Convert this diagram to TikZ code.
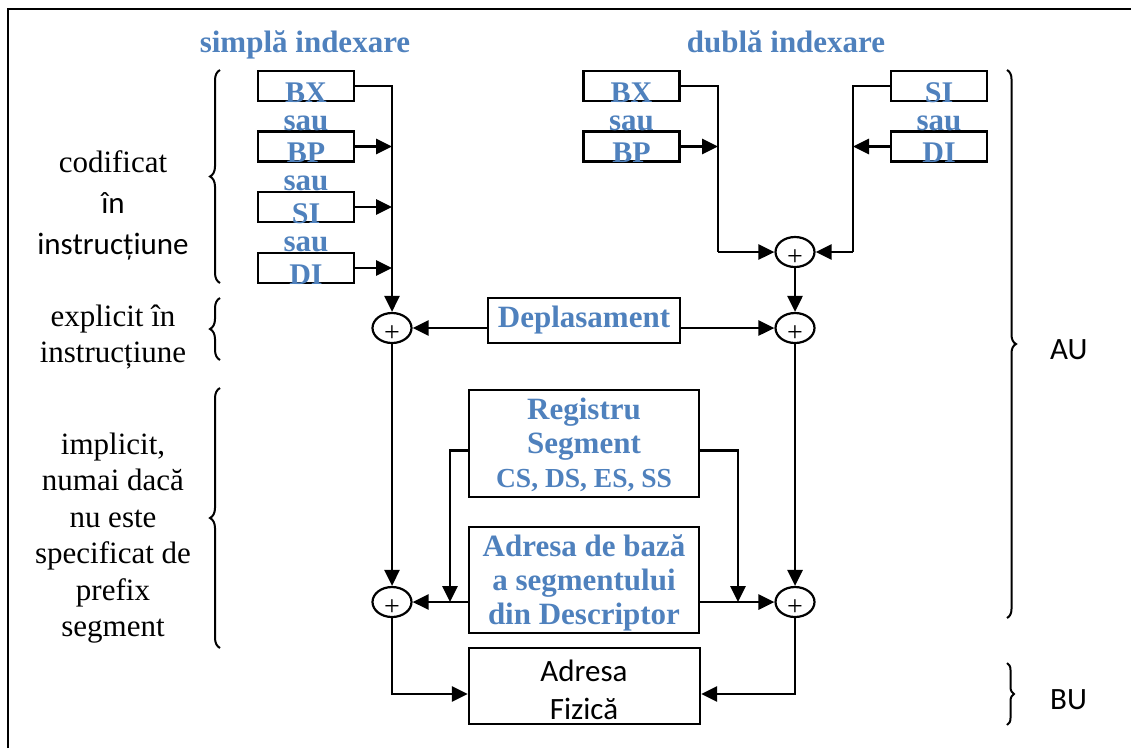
\documentclass[tikz,border=0pt]{standalone}
\usepackage{fontspec}
\setmainfont{Liberation Serif}
\newfontfamily\calfont{Carlito}
\usetikzlibrary{arrows.meta,shapes.geometric,decorations.pathreplacing,calc}
\definecolor{accblue}{HTML}{4F81BD}

\begin{document}
\begin{tikzpicture}[x=1pt,y=-1pt,
  regbox/.style={draw,line width=2.4pt,minimum width=96pt,minimum height=30pt,inner sep=0pt},
  bigbox/.style={draw,line width=2.4pt,inner sep=0pt},
  reglbl/.style={font=\fontsize{30}{30}\selectfont\bfseries,text=accblue,inner sep=0pt,anchor=base},
  saulbl/.style={font=\fontsize{31}{31}\selectfont\bfseries,text=accblue,inner sep=0pt,anchor=base},
  bluetxt/.style={font=\fontsize{31}{34}\selectfont\bfseries,text=accblue,inner sep=0pt,align=center},
  sumnode/.style={draw,ellipse,line width=2.2pt,minimum width=39pt,minimum height=30pt,inner sep=0pt},
  plussign/.style={font=\fontsize{28}{28}\selectfont,inner sep=0pt},
  arr/.style={line width=2.8pt,-{Triangle[length=16pt,width=15pt]}},
  wire/.style={line width=2.8pt},
  brc/.style={line width=2pt,decorate,decoration={brace,amplitude=10pt}},
  sidetxt/.style={font=\fontsize{31}{36.5}\selectfont,inner sep=0pt,align=center},
]
\useasboundingbox (0,0) rectangle (1131,748);

% outer frame
\draw[line width=2.6pt] (8,748) -- (8,9) -- (1131,9);

% titles
\node[bluetxt,anchor=base] (t1) at (305,52) {simplă indexare};
\node[bluetxt,anchor=base] (t2) at (786,52) {dublă indexare};

% simple indexing registers
\node[regbox] (bx1) at (306,86)  {};
\node[regbox] (bp1) at (306,146.5) {};
\node[regbox] (si1) at (306,207) {};
\node[regbox] (di1) at (306,268) {};
\node[reglbl] (lbx1) at (bx1.south) {BX};
\node[reglbl] (lbp1) at (bp1.south) {BP};
\node[reglbl] (lsi1) at (si1.south) {SI};
\node[reglbl] (ldi1) at (di1.south) {DI};
\node[saulbl] (sa1) at (bp1.north) {sau};
\node[saulbl] (sa2) at (si1.north) {sau};
\node[saulbl] (sa3) at (di1.north) {sau};

% double indexing registers
\node[regbox] (bx2) at (631.5,86)  {};
\node[regbox] (bp2) at (631.5,146.5) {};
\node[regbox] (si2) at (939,86) {};
\node[regbox] (di2) at (939,146.5) {};
\node[reglbl] (lbx2) at (bx2.south) {BX};
\node[reglbl] (lbp2) at (bp2.south) {BP};
\node[reglbl] (lsi2) at (si2.south) {SI};
\node[reglbl] (ldi2) at (di2.south) {DI};
\node[saulbl] (sa4) at (bp2.north) {sau};
\node[saulbl] (sa5) at (di2.north) {sau};

% adders
\node[sumnode] (s0) at (795,252) {};
\node[sumnode] (s1) at (392,328) {};
\node[sumnode] (s2) at (795,328) {};
\node[sumnode] (s3) at (392,602) {};
\node[sumnode] (s4) at (795,602) {};
\foreach \s in {s0,s1,s2,s3,s4}
  \node[plussign] (p\s) at ($(\s.center)+(0,6)$) {+};

% displacement, segment register, descriptor base, physical address
\node[bigbox,minimum width=192pt,minimum height=45pt] (dep) at (584,320.5) {};
\node[bluetxt] (ldep) at (dep.center) {Deplasament};
\node[bigbox,minimum width=230pt,minimum height=107pt] (reg) at (584,443.5) {};
\node[bluetxt] (lreg) at (584,445) {Registru\\Segment\\{\fontsize{27.5}{34}\selectfont CS, DS, ES, SS}};
\node[bigbox,minimum width=230pt,minimum height=106pt] (adr) at (584,580) {};
\node[bluetxt] (ladr) at (584,583) {Adresa de bază\\a segmentului\\din Descriptor};
\node[bigbox,minimum width=231pt,minimum height=76pt] (fiz) at (584.5,686) {};
\node[sidetxt,font=\calfont\fontsize{31}{38}\selectfont] (lfiz) at (584,690) {Adresa\\Fizică};

% simple indexing wiring
\draw[wire] (bx1.east) -| (s1.north |- bp1.east);
\draw[arr] (bx1.east -| s1.north) -- (s1.north);
\draw[arr] (bp1.east) -- (bp1.east -| s1.north);
\draw[arr] (si1.east) -- (si1.east -| s1.north);
\draw[arr] (di1.east) -- (di1.east -| s1.north);

% double indexing wiring
\coordinate (jl) at (718,252);
\coordinate (jr) at (853,252);
\draw[wire] (bx2.east) -| (jl);
\draw[arr] (jl) -- (s0.west);
\draw[arr] (bp2.east) -- (bp2.east -| jl);
\draw[wire] (si2.west) -| (jr);
\draw[arr] (jr) -- (s0.east);
\draw[arr] (di2.west) -- (di2.west -| jr);
\draw[arr] (s0.south) -- (s2.north);

% displacement into both adders
\draw[arr] (dep.west |- s1.east) -- (s1.east);
\draw[arr] (dep.east |- s2.west) -- (s2.west);
\draw[arr] (s1.south) -- (s3.north);
\draw[arr] (s2.south) -- (s4.north);

% segment base into the address adders
\coordinate (rl) at (450,602);
\coordinate (rr) at (738,602);
\draw[arr] ($(reg.west)+(0,7)$) -| (rl);
\draw[arr] ($(reg.east)+(0,7)$) -| (rr);
\draw[arr] (adr.west |- s3.east) -- (s3.east);
\draw[arr] (adr.east |- s4.west) -- (s4.west);

% physical address
\draw[arr] (s3.south) |- ($(fiz.west)+(0,8)$);
\draw[arr] (s4.south) |- ($(fiz.east)+(0,8)$);

% left braces and notes
\draw[brc] (220,283) -- (220,70);
\draw[brc] (220,360) -- (220,298);
\draw[brc] (220,648) -- (220,388);
\node[sidetxt,font=\fontsize{31}{41}\selectfont] (n1) at (113,205) {codificat\\{\calfont în}\\{\calfont instrucțiune}};
\node[sidetxt,font=\fontsize{31}{35.5}\selectfont] (n2) at (113,337) {explicit în\\instrucțiune};
\node[sidetxt] (n3) at (113,538) {implicit,\\numai dacă\\nu este\\specificat de\\prefix\\segment};

% right braces and unit labels
\draw[brc,decoration={amplitude=9pt}] (1007,70) -- (1007,618);
\draw[brc,decoration={amplitude=7pt}] (1007,663) -- (1007,725);
\node[font=\calfont\fontsize{31}{31}\selectfont,inner sep=0pt,anchor=west] (au) at (1050,350) {AU};
\node[font=\calfont\fontsize{31}{31}\selectfont,inner sep=0pt,anchor=west] (bu) at (1050,700) {BU};
\end{tikzpicture}
\end{document}
